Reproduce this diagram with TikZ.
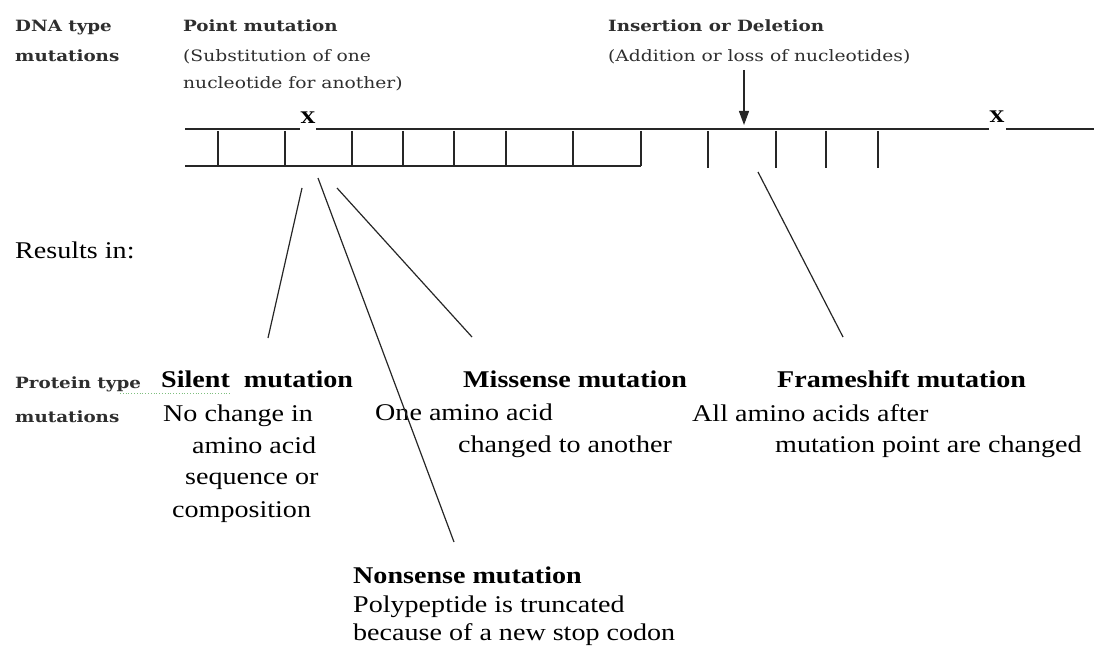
\documentclass[tikz,border=0pt]{standalone}
\usepackage{fontspec}
\setmainfont{Liberation Serif}
\newfontfamily\bigf[FakeStretch=1.17]{Liberation Serif}
\newfontfamily\smf[FakeStretch=1.19]{DejaVu Serif}
\newfontfamily\smbf[FakeStretch=1.18]{DejaVu Serif}
\usetikzlibrary{arrows.meta}
\definecolor{smgray}{HTML}{2E2E2E}
\definecolor{spellgreen}{HTML}{7FBF7F}
\tikzset{
  big/.style={font=\bigf\fontsize{24}{28}\selectfont, anchor=base west, inner sep=0pt, text=black},
  bigb/.style={font=\bigf\bfseries\fontsize{24}{28}\selectfont, anchor=base west, inner sep=0pt, text=black},
  sm/.style={font=\smf\fontsize{15.7}{18}\selectfont, anchor=base west, inner sep=0pt, text=smgray},
  smb/.style={font=\smbf\bfseries\fontsize{15.5}{18}\selectfont, anchor=base west, inner sep=0pt, text=smgray},
  xmark/.style={font=\smbf\bfseries\fontsize{16}{18}\selectfont, anchor=center, inner sep=0pt, text=black},
  dna/.style={line width=1.3pt, black!85},
  conn/.style={line width=1.2pt, black!85},
}
\begin{document}
\begin{tikzpicture}[x=1pt,y=-1pt]
\useasboundingbox (0,0) rectangle (1094,655);
% ---- left labels
\node[smb] (dna1) at (15,32) {DNA type};
\node[smb] (dna2) at (15,62) {mutations};
\node[big] (res) at (15,258) {Results in:};
\node[smb] (pro1) at (15,388) {Protein type};
\node[smb] (pro2) at (15,422) {mutations};
% ---- DNA headers
\node[smb] (pm) at (183,32) {Point mutation};
\node[sm] (pm1) at (183,62) {(Substitution of one};
\node[sm] (pm2) at (183,89) {nucleotide for another)};
\node[smb] (ind) at (608,32) {Insertion or Deletion};
\node[sm] (ind1) at (608,62) {(Addition or loss of nucleotides)};
% ---- X marks
\node[xmark] (x1) at (308,118) {X};
\node[xmark] (x2) at (997,117) {X};
% ---- DNA strand
\coordinate (t0) at (185,129);
\coordinate (t1) at (300,129);
\coordinate (t2) at (316,129);
\coordinate (t3) at (989,129);
\coordinate (t4) at (1006,129);
\coordinate (t5) at (1094,129);
\coordinate (b0) at (185,166);
\coordinate (b1) at (641,166);
\draw[dna] (t0) -- (t1);
\draw[dna] (t2) -- (t3);
\draw[dna] (t4) -- (t5);
\draw[dna] (b0) -- (b1);
\foreach \xx in {218,285,352,403,454,506,573,641}
  \draw[dna] (\xx,131) -- (\xx,166);
\foreach \xx in {708,776,826,878}
  \draw[dna] (\xx,131) -- (\xx,168);
% ---- insertion arrow
\coordinate (a0) at (744,70);
\coordinate (a1) at (744,125);
\draw[conn, -{Triangle[length=14pt,width=10pt]}] (a0) -- (a1);
% ---- protein results
\node[bigb] (sil) at (161,387) {Silent\ \ mutation};
\draw[spellgreen, line width=0.8pt, dotted] (120,393) -- (230,393);
\node[big] (sil1) at (163,421) {No change in};
\node[big] (sil2) at (192,453) {amino acid};
\node[big] (sil3) at (185,484) {sequence or};
\node[big] (sil4) at (172,517) {composition};
\node[bigb] (mis) at (463,387) {Missense mutation};
\node[big] (mis1) at (375,420) {One amino acid};
\node[big] (mis2) at (458,452) {changed to another};
\node[bigb] (fra) at (777,387) {Frameshift mutation};
\node[big] (fra1) at (692,421) {All amino acids after};
\node[big] (fra2) at (775,452) {mutation point are changed};
\node[bigb] (non) at (353,583) {Nonsense mutation};
\node[big] (non1) at (353,612) {Polypeptide is truncated};
\node[big] (non2) at (353,640) {because of a new stop codon};
% ---- connectors
\coordinate (cs0) at (302,188); \coordinate (cs1) at (268,338);
\coordinate (cn0) at (318,178); \coordinate (cn1) at (454,542);
\coordinate (cm0) at (337,188); \coordinate (cm1) at (472,337);
\coordinate (cf0) at (758,172); \coordinate (cf1) at (843,337);
\draw[conn] (cs0) -- (cs1);
\draw[conn] (cn0) -- (cn1);
\draw[conn] (cm0) -- (cm1);
\draw[conn] (cf0) -- (cf1);
\end{tikzpicture}
\end{document}
